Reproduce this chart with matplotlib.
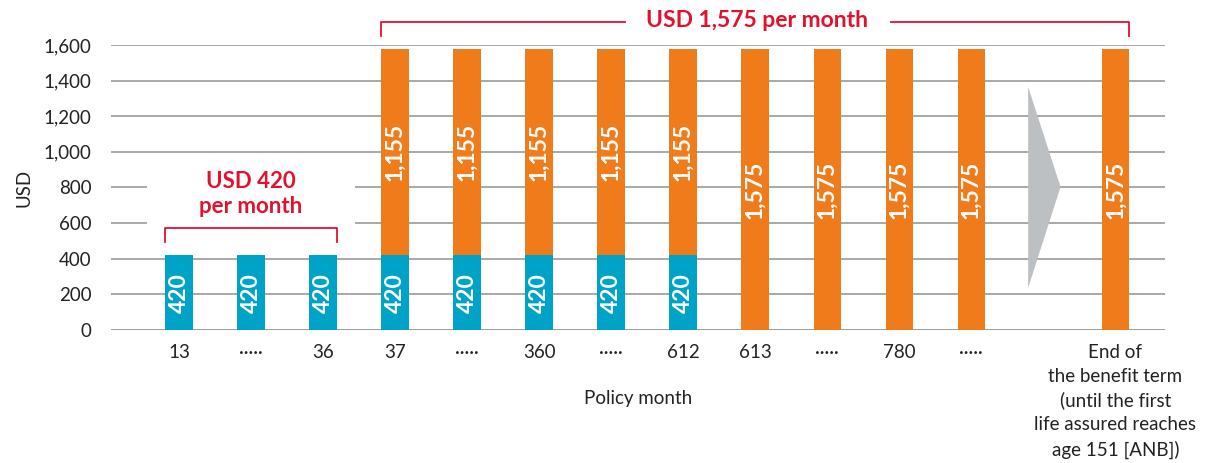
import matplotlib.pyplot as plt
from matplotlib.patches import Polygon, Rectangle
import numpy as np

plt.rcParams['font.family'] = ['Lato', 'DejaVu Sans']

# categories (policy months), index 12 is the gray "continues" arrow
months = ['13', '·····', '36', '37', '·····', '360', '·····', '612', '613',
          '·····', '780', '·····', '',
          'End of\nthe benefit term\n(until the first\nlife assured reaches\nage 151 [ANB])']
base = [420, 420, 420, 420, 420, 420, 420, 420, 0, 0, 0, 0, 0, 0]
extra = [0, 0, 0, 1155, 1155, 1155, 1155, 1155, 1575, 1575, 1575, 1575, 0, 1575]
yticks = [0, 200, 400, 600, 800, 1000, 1200, 1400, 1600]

BLUE = '#00A3C8'
ORANGE = '#F07B1A'
RED = '#E2112D'
GRID = '#A8A8A8'

fig = plt.figure(figsize=(12.09, 4.63), dpi=100)
ax = fig.add_axes([0.0918, 0.2873, 0.8718, 0.6155])

x = np.arange(len(months))
w = 0.38
ax.bar(x, base, w, color=BLUE, zorder=3)
ax.bar(x, extra, w, bottom=base, color=ORANGE, zorder=3)

# value labels inside bars
for i in x:
    if base[i]:
        ax.text(i, base[i] / 2, f'{base[i]:,}', rotation=90, ha='center', va='center',
                color='white', fontsize=16.5, fontweight='bold', zorder=4)
    if extra[i]:
        ax.text(i, base[i] + extra[i] / 2, f'{extra[i]:,}', rotation=90, ha='center',
                va='center', color='white', fontsize=16.5, fontweight='bold', zorder=4)

# gray arrow in the gap
ar = 12
ax.add_patch(Polygon([[ar - 0.21, 1365], [ar + 0.24, 803], [ar - 0.21, 236]],
                     closed=True, color='#BCC0C2', zorder=3, lw=0))

# gridlines
for yv in yticks[1:]:
    ax.axhline(yv, color=GRID, lw=1.4, zorder=1)
ax.axhline(0, color='#808080', lw=1.8, zorder=2)

# white gap behind the left annotation
ax.add_patch(Rectangle((-0.45, 480), 2.9, 470, color='white', zorder=1.5, lw=0))

# left bracket: USD 420 per month
bl, br, by = 0 - w / 2, 2 + w / 2, 573
ax.plot([bl, bl, br, br], [494, by, by, 494], color=RED, lw=1.3, zorder=3)
ax.text(1, 835, 'USD 420', ha='center', va='center', color=RED, fontsize=16,
        fontweight='bold', zorder=4)
ax.text(1, 692, 'per month', ha='center', va='center', color=RED, fontsize=16,
        fontweight='bold', zorder=4)

# top bracket: USD 1,575 per month
tl, tr, ty = 3 - w / 2, 13 + w / 2, 1730
ax.plot([tl, tl, 6.19], [1650, ty, ty], color=RED, lw=1.3, clip_on=False)
ax.plot([9.89, tr, tr], [ty, ty, 1650], color=RED, lw=1.3, clip_on=False)
ax.text(8.03, 1740, 'USD 1,575 per month', ha='center', va='center', color=RED,
        fontsize=16.5, fontweight='bold', clip_on=False)

ax.set_xlim(-0.944, 13.69)
ax.set_ylim(0, 1600)
ax.set_yticks(yticks)
ax.set_yticklabels([f'{v:,}' for v in yticks], fontsize=13.5, color='#222222')
ax.set_xticks(x)
ax.set_xticklabels(months, fontsize=13.5, color='#222222', linespacing=1.48)
ax.tick_params(axis='y', length=0, pad=14)
ax.tick_params(axis='x', length=0, pad=10)
for s in ax.spines.values():
    s.set_visible(False)

ax.set_ylabel('USD', fontsize=13.5, color='#222222', labelpad=8)
ax.text(0.5, -0.24, 'Policy month', transform=ax.transAxes, ha='center', va='center',
        fontsize=13.5, color='#222222')

fig.savefig('out.png', dpi=100)
